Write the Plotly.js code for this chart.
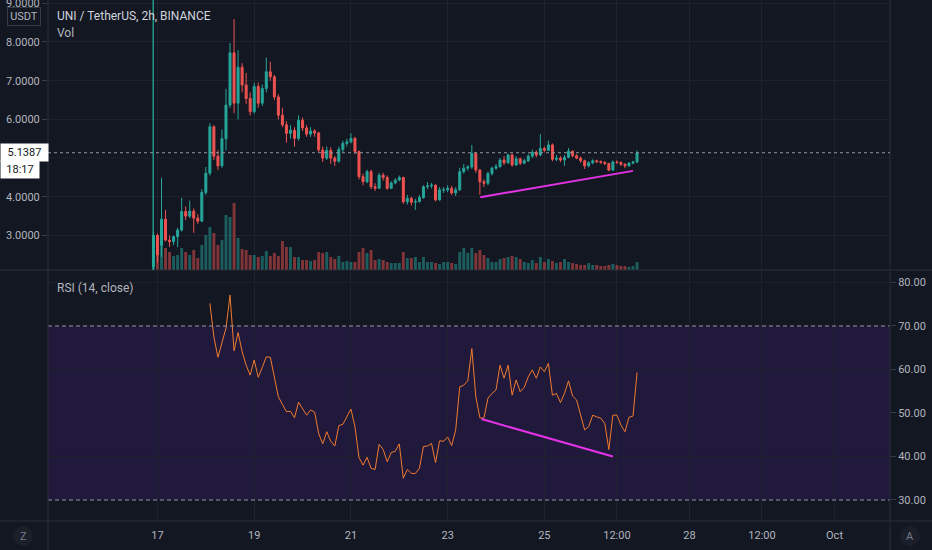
<!DOCTYPE html>
<html>
<head>
<meta charset="utf-8">
<script src="https://cdn.plot.ly/plotly-3.0.1.min.js"></script>
<style>
html,body{margin:0;padding:0;background:#131722;}
#chart{width:932px;height:550px;}
</style>
</head>
<body>
<div id="chart"></div>
<script>
// ---- Data (UNI / TetherUS, 2h, BINANCE) ----
const startTime = '2020-09-16T22:00:00Z';
const barHours = 2;

const open = [2.2,3.0,2.75,3.42,2.88,2.84,2.97,3.14,3.62,3.5,
3.63,3.45,3.37,4.11,4.61,5.81,5.05,4.8,5.5,6.37,
7.72,6.42,7.35,6.89,6.54,6.2,6.85,6.42,6.8,7.23,
7.1,6.58,6.11,5.86,5.64,5.72,5.51,5.98,5.78,5.62,
5.7,5.65,5.21,5.0,5.2,5.0,4.92,5.22,5.38,5.42,
5.51,5.17,4.52,4.39,4.65,4.26,4.22,4.56,4.5,4.22,
4.36,4.43,4.5,3.87,3.96,3.86,3.88,3.98,4.26,4.28,
4.3,3.92,4.18,4.18,4.22,4.1,4.18,4.65,4.74,4.77,
5.12,4.69,4.39,4.35,4.6,4.74,4.78,4.95,4.88,5.08,
4.82,4.98,4.87,4.93,5.05,5.15,5.08,5.25,5.2,5.34,
4.97,5.0,4.95,5.02,5.18,5.06,5.0,4.93,4.8,4.88,
4.93,4.91,4.89,4.86,4.69,4.9,4.89,4.84,4.8,4.87,
4.9];

const high = [3.1,3.05,4.49,3.66,3.0,3.0,3.2,3.97,3.75,3.9,
3.7,3.55,4.2,4.77,5.9,5.85,5.2,5.74,6.79,7.97,
8.59,7.79,7.45,7.2,6.7,6.95,6.95,6.9,7.6,7.49,
7.15,6.65,6.3,5.95,5.85,5.8,6.1,6.05,5.85,5.8,
5.75,5.68,5.3,5.3,5.28,5.05,5.3,5.45,5.5,5.64,
5.55,5.2,4.6,4.7,4.7,4.35,4.62,4.62,4.55,4.4,
4.48,4.55,4.52,4.05,4.0,3.95,4.05,4.3,4.38,4.36,
4.32,4.25,4.25,4.3,4.28,4.25,4.75,4.85,4.82,5.34,
5.15,4.72,4.45,4.65,4.78,4.85,5.0,5.05,5.12,5.12,
5.05,5.02,4.98,5.1,5.22,5.2,5.62,5.3,5.45,5.38,
5.08,5.05,5.08,5.26,5.2,5.1,5.04,4.96,4.92,4.97,
4.96,4.94,4.92,4.88,4.94,4.94,4.91,4.87,4.9,4.93,
5.2];

const low = [2.0,2.3,2.45,2.85,2.7,2.75,2.7,3.1,3.4,3.45,
3.07,3.3,3.35,4.05,4.55,4.95,4.7,4.75,5.2,6.3,
6.16,6.0,6.7,6.4,6.1,6.15,6.3,6.35,6.7,7.0,
6.5,6.0,5.8,5.4,5.5,5.3,5.45,5.7,5.55,5.55,
5.55,5.15,4.9,4.95,4.85,4.8,4.88,5.15,5.3,5.38,
5.1,4.45,4.3,4.35,4.2,4.15,4.2,4.42,4.18,4.2,
4.32,4.4,3.82,3.8,3.78,3.66,3.85,3.95,4.2,4.22,
3.88,3.9,4.1,4.12,4.05,4.02,4.15,4.6,4.68,4.72,
4.62,4.05,4.25,4.3,4.55,4.7,4.75,4.82,4.85,4.78,
4.8,4.82,4.84,4.9,5.0,5.02,5.05,5.15,5.18,4.92,
4.92,4.9,4.8,5.0,5.02,4.97,4.88,4.72,4.76,4.84,
4.87,4.85,4.82,4.66,4.67,4.85,4.8,4.74,4.77,4.84,
4.87];

const close = [3.0,2.5,3.42,2.88,2.84,2.97,3.14,3.62,3.5,3.63,
3.45,3.37,4.11,4.61,5.81,5.05,4.8,5.5,6.37,7.72,
6.42,7.35,6.89,6.54,6.2,6.85,6.42,6.8,7.23,7.1,
6.58,6.11,5.86,5.64,5.72,5.51,5.98,5.78,5.62,5.7,
5.65,5.21,5.0,5.2,5.0,4.92,5.22,5.38,5.42,5.51,
5.17,4.52,4.39,4.65,4.26,4.22,4.56,4.5,4.22,4.36,
4.43,4.5,3.87,3.96,3.86,3.88,3.98,4.26,4.28,4.3,
3.92,4.18,4.18,4.22,4.1,4.18,4.65,4.74,4.77,5.12,
4.69,4.39,4.35,4.6,4.74,4.78,4.95,4.88,5.08,4.82,
4.98,4.87,4.93,5.05,5.15,5.08,5.25,5.2,5.34,4.97,
5.0,4.95,5.02,5.18,5.06,5.0,4.93,4.8,4.88,4.93,
4.91,4.89,4.86,4.69,4.9,4.89,4.84,4.8,4.87,4.9,
5.14];

// volume (thousand UNI, estimated)
const volume = [35,33,30,22,18,14,15,22,18,15,
20,12,25,35,43,37,25,30,55,53,
67,32,21,20,15,15,13,14,19,14,
17,14,29,23,23,13,13,10,10,9,
10,18,17,18,13,11,14,8,9,8,
8,18,22,17,20,10,11,10,8,7,
7,7,18,12,12,13,8,13,8,8,
7,6,8,8,7,6,18,22,17,22,
17,20,15,12,8,8,11,12,13,14,
13,11,8,7,10,7,13,8,11,9,
7,8,11,8,7,6,5,5,7,5,
5,4,4,5,6,5,4,4,3,4,
8];

// RSI(14, close), starting at bar 14
const rsiStart = 14;
const rsi = [75.2,67.5,62.8,66.0,69.5,77.1,64.3,68.5,64.1,61.0,
58.7,62.2,58.2,60.5,62.9,62.8,58.0,53.7,52.0,50.3,
50.4,48.9,52.5,51.0,49.5,50.7,50.2,45.3,42.9,45.7,
43.5,42.4,47.1,47.4,49.0,50.9,46.9,39.8,38.0,39.8,
37.3,37.0,42.8,41.6,38.8,40.9,41.2,42.9,35.0,37.0,
36.1,36.1,37.3,42.3,42.4,43.0,38.6,43.6,43.5,44.5,
42.5,46.1,56.0,56.4,57.4,64.8,53.7,48.9,48.8,53.4,
54.5,55.3,61.0,58.0,61.0,54.1,57.6,54.9,55.9,58.3,
59.9,58.0,60.6,59.5,61.4,54.1,54.5,52.4,54.5,57.4,
53.9,53.0,49.5,46.1,46.9,49.5,49.1,48.8,47.6,41.6,
49.5,49.5,47.2,45.7,49.0,49.3,59.3];

// drawn trend lines
const priceTrendX = ['2020-09-23 16:12', '2020-09-26 20:00'];
const priceTrendY = [3.99, 4.67];
const rsiTrendX = ['2020-09-23 16:48', '2020-09-26 10:00'];
const rsiTrendY = [48.6, 40.0];

const lastPrice = 5.1387;
const lastPriceText = '5.1387';
const countdownText = '18:17';

const tickVals = ['2020-09-17','2020-09-19','2020-09-21','2020-09-23','2020-09-25','2020-09-26 12:00','2020-09-28','2020-09-29 12:00','2020-10-01'];
const tickText = ['17','19','21','23','25','12:00','28','12:00','Oct'];
const priceTicks = [3,4,6,7,8,9];      // 5.0000 is hidden under the last-price label
const hiddenPriceGrid = [5];
const rsiTicks = [30,40,50,60,70,80];
const rsiGrid = [40,60,80];

// ---- Build ----
function fmt(ms){
  const d = new Date(ms);
  const p = n => String(n).padStart(2,'0');
  return d.getUTCFullYear()+'-'+p(d.getUTCMonth()+1)+'-'+p(d.getUTCDate())+' '+p(d.getUTCHours())+':'+p(d.getUTCMinutes());
}
const t0 = Date.parse(startTime);
const times = close.map((_, i) => fmt(t0 + i*barHours*3600000));
const rsiTimes = times.slice(rsiStart, rsiStart + rsi.length);
const markerTime = fmt(t0 - 8*60000);

const UP = '#26a69a', DOWN = '#ef5350';
const volColors = close.map((c, i) => c >= open[i] ? 'rgba(38,166,154,0.5)' : 'rgba(239,83,80,0.5)');

const W = 932, H = 550, ML = 48, MR = 42, MT = 0, MB = 29;
const PW = W - ML - MR, PH = H - MT - MB;
const px = x => (x - ML) / PW;          // pixel -> paper x
const py = y => (PH - (y - MT)) / PH;   // pixel -> paper y
const split = py(270);

const FONT = 'Roboto, "Noto Sans", "DejaVu Sans", sans-serif';
const TXT = '#b2b5be';
const LINE = '#2a2e39';
const GRID = '#1e222d';

const traces = [
  { type:'bar', x: times, y: volume, xaxis:'x', yaxis:'y',
    marker:{color: volColors, line:{width:0}}, width: barHours*3600000*0.72, hoverinfo:'skip' },
  { type:'candlestick', x: times, open: open, high: high, low: low, close: close,
    xaxis:'x', yaxis:'y3',
    increasing:{line:{color:UP, width:1}, fillcolor:UP},
    decreasing:{line:{color:DOWN, width:1}, fillcolor:DOWN},
    whiskerwidth:0, hoverinfo:'skip' },
  { type:'scatter', mode:'lines', x: priceTrendX, y: priceTrendY, xaxis:'x', yaxis:'y3',
    line:{color:'#e433e6', width:2}, hoverinfo:'skip' },
  { type:'scatter', mode:'lines', x: rsiTimes, y: rsi, xaxis:'x', yaxis:'y2',
    line:{color:'#f07a2e', width:1}, hoverinfo:'skip' },
  { type:'scatter', mode:'lines', x: rsiTrendX, y: rsiTrendY, xaxis:'x', yaxis:'y2',
    line:{color:'#e433e6', width:2}, hoverinfo:'skip' }
];

const shapes = [];
// RSI band and levels
shapes.push({type:'rect', xref:'paper', yref:'y2', x0:0, x1:1, y0:30, y1:70,
  fillcolor:'#21193b', line:{width:0}, layer:'below'});
rsiGrid.forEach(v => shapes.push({type:'line', xref:'paper', yref:'y2', x0:0, x1:1, y0:v, y1:v,
  line:{color:GRID, width:1}, layer:'below'}));
hiddenPriceGrid.forEach(v => shapes.push({type:'line', xref:'paper', yref:'y3', x0:0, x1:1, y0:v, y1:v,
  line:{color:GRID, width:1}, layer:'below'}));
[30,70].forEach(v => shapes.push({type:'line', xref:'paper', yref:'y2', x0:0, x1:1, y0:v, y1:v,
  line:{color:'#9598a1', width:1, dash:'4px,3px'}}));
// separators
shapes.push({type:'line', xref:'paper', yref:'paper', x0:px(0), x1:px(W), y0:split, y1:split, line:{color:LINE, width:1}});
shapes.push({type:'line', xref:'paper', yref:'paper', x0:px(0), x1:px(W), y0:0, y1:0, line:{color:LINE, width:1}});
shapes.push({type:'line', xref:'paper', yref:'paper', x0:0, x1:0, y0:py(H), y1:py(0), line:{color:LINE, width:1}});
shapes.push({type:'line', xref:'paper', yref:'paper', x0:1, x1:1, y0:py(H), y1:py(0), line:{color:LINE, width:1}});
// first-bar marker
shapes.push({type:'line', xref:'x', yref:'paper', x0:markerTime, x1:markerTime, y0:split, y1:1,
  line:{color:'#22ab94', width:1.3}});
// last price dotted line
shapes.push({type:'line', xref:'paper', yref:'y3', x0:0, x1:1, y0:lastPrice, y1:lastPrice,
  line:{color:'#9598a1', width:1, dash:'dot'}});
// corner buttons
[23, 910].forEach(cx => shapes.push({type:'circle', xref:'paper', yref:'paper',
  x0:px(cx-10), x1:px(cx+10), y0:py(546), y1:py(526), fillcolor:'#1b1f2a', line:{width:0}}));

const annotations = [
  {xref:'paper', yref:'paper', x:px(55), y:py(16), xanchor:'left', yanchor:'middle', showarrow:false,
   text:'UNI / TetherUS, 2h, BINANCE', font:{family:FONT, size:12, color:'#d1d4dc'}},
  {xref:'paper', yref:'paper', x:px(55), y:py(33), xanchor:'left', yanchor:'middle', showarrow:false,
   text:'Vol', font:{family:FONT, size:12, color:TXT}},
  {xref:'paper', yref:'paper', x:px(55), y:py(288), xanchor:'left', yanchor:'middle', showarrow:false,
   text:'RSI (14, close)', font:{family:FONT, size:12, color:TXT}},
  {xref:'paper', yref:'paper', x:px(7), y:py(16.5), xanchor:'left', yanchor:'middle', showarrow:false,
   text:'USDT', font:{family:FONT, size:11, color:TXT}, bgcolor:'#131722', bordercolor:'#363a45',
   borderwidth:1, borderpad:2, width:28, height:13},
  {xref:'paper', yref:'y3', x:px(0), y:lastPrice, xanchor:'left', yanchor:'middle', showarrow:false,
   text:lastPriceText, font:{family:FONT, size:11, color:'#131722'}, bgcolor:'#ffffff',
   borderpad:2, width:43, height:13},
  {xref:'paper', yref:'y3', x:px(0), y:lastPrice, yshift:-17, xanchor:'left', yanchor:'middle', showarrow:false,
   text:countdownText, font:{family:FONT, size:11, color:'#131722'}, bgcolor:'#ffffff',
   borderpad:2, width:34, height:13},
  {xref:'paper', yref:'paper', x:px(23), y:py(536), xanchor:'center', yanchor:'middle', showarrow:false,
   text:'Z', font:{family:FONT, size:11, color:'#787b86'}},
  {xref:'paper', yref:'paper', x:px(910), y:py(536), xanchor:'center', yanchor:'middle', showarrow:false,
   text:'A', font:{family:FONT, size:11, color:'#787b86'}}
];

const layout = {
  width: W, height: H,
  margin: {l:ML, r:MR, t:MT, b:MB, pad:0},
  paper_bgcolor:'#131722', plot_bgcolor:'#131722',
  showlegend:false, hovermode:false,
  font:{family:FONT, size:11, color:TXT},
  xaxis:{type:'date', range:['2020-09-14 17:40','2020-10-02 03:32'], anchor:'y2',
    tickvals: tickVals, ticktext: tickText, showgrid:true, gridcolor:GRID, gridwidth:1,
    zeroline:false, showline:false, ticks:'', ticklabelstandoff:6,
    tickfont:{family:FONT, size:11, color:TXT}, rangeslider:{visible:false}, fixedrange:true},
  yaxis:{domain:[split,1], range:[0,270], visible:false, showgrid:false, zeroline:false, fixedrange:true},
  yaxis3:{domain:[split,1], overlaying:'y', side:'left', range:[2.109, 9.085],
    tickvals: priceTicks, tickformat:'.4f', showgrid:true, gridcolor:GRID, zeroline:false,
    ticks:'outside', ticklen:5, tickcolor:'#363a45', showline:false, ticklabeloverflow:'allow',
    tickfont:{family:FONT, size:11, color:TXT}, fixedrange:true},
  yaxis2:{domain:[0,split], side:'right', range:[25.17, 82.87], anchor:'x',
    tickvals: rsiTicks, tickformat:'.2f', showgrid:false, zeroline:false,
    ticks:'outside', ticklen:5, tickcolor:'#363a45', showline:false,
    tickfont:{family:FONT, size:11, color:TXT}, fixedrange:true},
  shapes: shapes,
  annotations: annotations
};

Plotly.newPlot('chart', traces, layout, {displayModeBar:false, staticPlot:true});
</script>
</body>
</html>
